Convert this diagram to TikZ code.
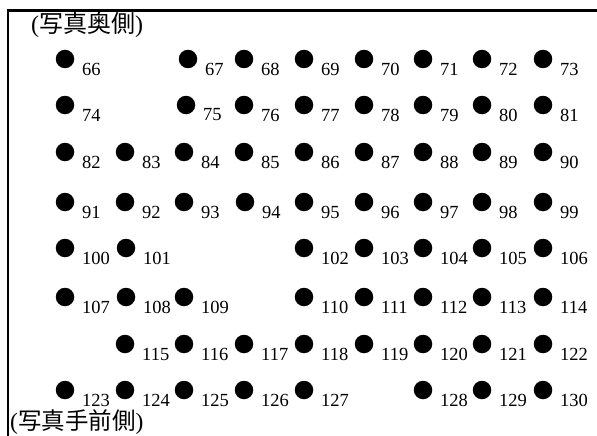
\documentclass[tikz,border=0pt]{standalone}
\usepackage{fontspec}
\setmainfont{Liberation Serif}
\newfontfamily\cjk{Noto Sans CJK JP}
\begin{document}
\begin{tikzpicture}[x=1pt,y=-1pt,
  dot/.style={circle,fill=black,inner sep=0pt,minimum size=18.5pt},
  lbl/.style={anchor=west,inner sep=0pt,font=\fontsize{18.5}{20}\selectfont},
  captext/.style={anchor=west,inner sep=0pt,font=\fontsize{24}{26}\selectfont},
  captextb/.style={anchor=west,inner sep=0pt,font=\fontsize{23.5}{26}\selectfont},
  frame/.style={line width=2.2pt}]
\useasboundingbox (0,0) rectangle (597,436);
\coordinate (tl) at (8.3,10.5);
\coordinate (tr) at (597,10.5);
\coordinate (bl) at (8.3,436);
\draw[frame] (tr) -- (tl) -- (bl);
\node[captext] (top) at (31,25) {(\cjk 写真奥側\rmfamily)};
\node[captextb] (bot) at (10,422.5) {(\cjk 写真手前側\rmfamily)};
\foreach \n/\x/\y in {
 66/65/59, 67/188/59, 68/244/59, 69/304/59, 70/364/59, 71/423/59, 72/482/59, 73/543/59,
 74/65/105, 75/186/105, 76/244/105, 77/304/105, 78/364/105, 79/423/105, 80/482/105, 81/543/105,
 82/65/152, 83/125/152, 84/184/152, 85/244/152, 86/304/152, 87/364/152, 88/423/152, 89/482/152, 90/543/152,
 91/65/202, 92/125/202, 93/184/202, 94/245/202, 95/304/202, 96/364/202, 97/423/202, 98/482/202, 99/543/202,
 100/65/248, 101/126/248, 102/304/248, 103/364/248, 104/423/248, 105/482/248, 106/543/248,
 107/65/297, 108/126/297, 109/184/297, 110/304/297, 111/364/297, 112/423/297, 113/482/297, 114/543/297,
 115/125/344, 116/184/344, 117/244/344, 118/304/344, 119/364/344, 120/423/344, 121/482/344, 122/543/344,
 123/65/390, 124/125/390, 125/184/390, 126/244/390, 127/304/390, 128/423/390, 129/482/390, 130/543/390}
{
  \node[dot] (d\n) at (\x,\y) {};
  \node[lbl] (l\n) at (\x+17,\y+10) {\n};
}
\end{tikzpicture}
\end{document}
